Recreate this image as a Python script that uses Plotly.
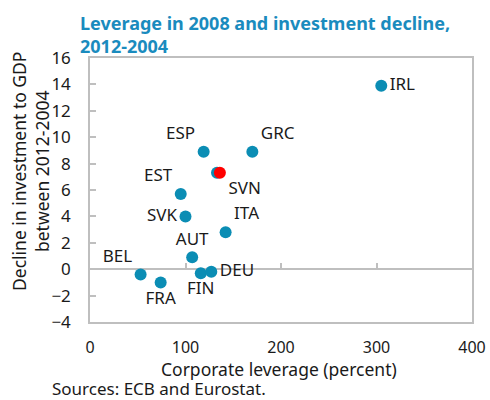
import plotly.graph_objects as go

countries = ["IRL", "ESP", "GRC", "SVN", "EST", "SVK", "ITA", "AUT", "BEL", "FRA", "FIN", "DEU"]
leverage = [305, 119, 170, 133, 95, 100, 142, 107, 53, 74, 116, 127]
decline = [13.9, 8.9, 8.9, 7.3, 5.7, 4.0, 2.8, 0.9, -0.4, -1.0, -0.3, -0.2]
label_pos = ["middle right", "top left", "top right", "middle right", "top left", "middle left",
             "top right", "top center", "top left", "bottom center", "bottom center", "middle right"]

hl_country = ["SVN"]
hl_leverage = [136]
hl_decline = [7.3]

x_ticks = [0, 100, 200, 300, 400]
y_ticks = [-4, -2, 0, 2, 4, 6, 8, 10, 12, 14, 16]

BLUE = "#0B8DB4"
RED = "#FF0000"
GRAY = "#BFBFBF"
FONT = "Noto Sans"
TXT = "#1a1a1a"

L, R, T, B = 90, 18, 58, 78
W, H = 490, 400
PW, PH = W - L - R, H - T - B


def px(x):
    return (x - L) / PW


def py(y):
    return (H - B - y) / PH


labels = [c if c not in hl_country else "" for c in countries]

fig = go.Figure()
fig.add_trace(go.Scatter(
    x=leverage, y=decline, mode="markers+text", text=labels, textposition=label_pos,
    marker=dict(color=BLUE, size=12), textfont=dict(family=FONT, size=17, color=TXT),
    cliponaxis=False, showlegend=False, hoverinfo="skip"))
fig.add_trace(go.Scatter(
    x=hl_leverage, y=hl_decline, mode="markers+text", text=hl_country, textposition="bottom right",
    marker=dict(color=RED, size=12), textfont=dict(family=FONT, size=17, color=TXT),
    cliponaxis=False, showlegend=False, hoverinfo="skip"))
fig.add_trace(go.Scatter(x=[], y=[], xaxis="x2", showlegend=False))

fig.update_layout(
    width=W, height=H,
    margin=dict(l=L, r=R, t=T, b=B, autoexpand=False),
    paper_bgcolor="white", plot_bgcolor="white",
    font=dict(family=FONT, size=17, color=TXT),
    xaxis=dict(range=[0, 400], tickvals=x_ticks, showline=True, linecolor=GRAY, linewidth=1.5,
               mirror=True, ticks="", showgrid=False, zeroline=False, ticklabelstandoff=10,
               tickfont=dict(size=16), automargin=False),
    xaxis2=dict(range=[0, 400], tickvals=x_ticks, overlaying="x", anchor="free", position=0.2,
                side="bottom", ticks="inside", ticklen=6, tickcolor=GRAY, tickwidth=1.5,
                showline=False, showticklabels=False, showgrid=False, zeroline=False,
                automargin=False),
    yaxis=dict(range=[-4, 16], tickvals=y_ticks, showline=True, linecolor=GRAY, linewidth=1.5,
               mirror=True, ticks="inside", ticklen=6, tickcolor=GRAY, tickwidth=1.5,
               showgrid=False, zeroline=True, zerolinecolor=GRAY, zerolinewidth=1.5,
               ticklabelstandoff=14, automargin=False),
    annotations=[
        dict(text="<b>Leverage in 2008 and investment decline,<br>2012-2004</b>",
             xref="paper", yref="paper", x=px(78), y=py(9), xanchor="left", yanchor="top",
             align="left", showarrow=False,
             font=dict(family=FONT, size=18, color="#1A8BBE")),
        dict(text="Decline in investment to GDP<br>between 2012-2004", textangle=-90,
             xref="paper", yref="paper", x=px(30), y=py(172),
             xanchor="center", yanchor="middle", showarrow=False,
             font=dict(family=FONT, size=17.5, color=TXT)),
        dict(text="Corporate leverage (percent)", xref="paper", yref="paper",
             x=px(279), y=py(369), xanchor="center", yanchor="middle", showarrow=False,
             font=dict(family=FONT, size=17.5, color=TXT)),
        dict(text="Sources: ECB and Eurostat.", xref="paper", yref="paper",
             x=px(50), y=py(388), xanchor="left", yanchor="middle",
             showarrow=False, font=dict(family=FONT, size=17, color=TXT)),
    ],
)

fig.write_html("out.html", post_script="document.body.style.margin='0';",
               config={"displayModeBar": False})
